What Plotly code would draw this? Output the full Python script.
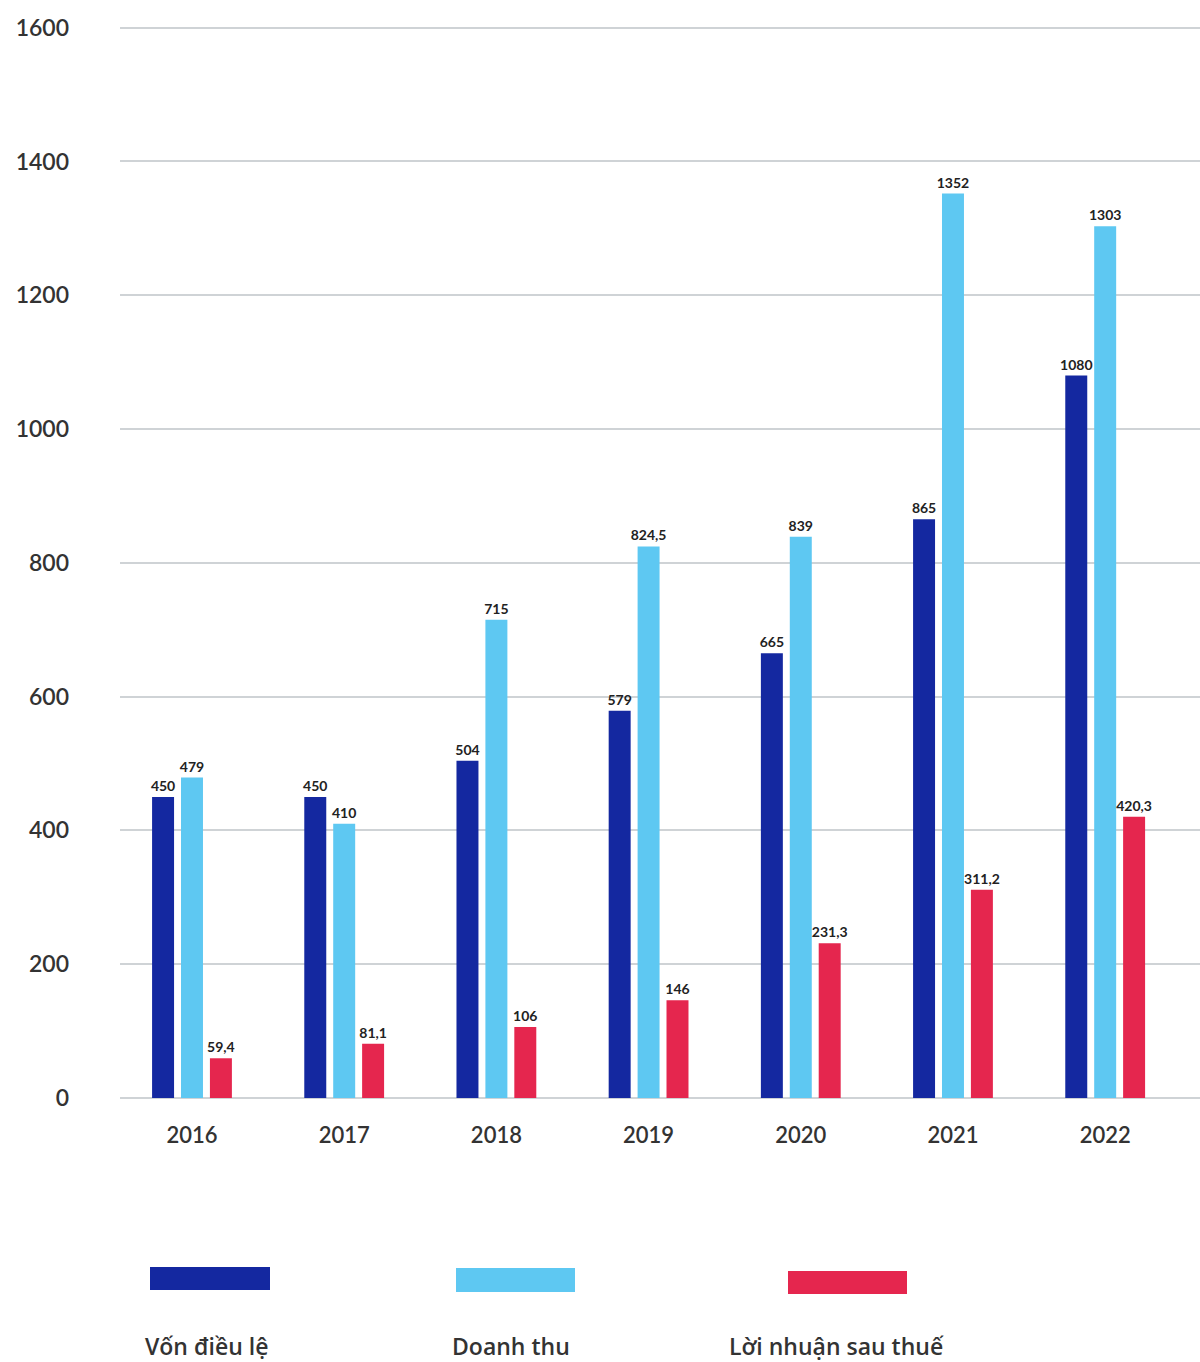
import plotly.graph_objects as go

years = ["2016", "2017", "2018", "2019", "2020", "2021", "2022"]
von_dieu_le = [450, 450, 504, 579, 665, 865, 1080]
doanh_thu = [479, 410, 715, 824.5, 839, 1352, 1303]
loi_nhuan = [59.4, 81.1, 106, 146, 231.3, 311.2, 420.3]
series_names = ["Vốn điều lệ", "Doanh thu", "Lời nhuận sau thuế"]
colors = ["#1428a0", "#5ec8f2", "#e5264e"]
y_ticks = [0, 200, 400, 600, 800, 1000, 1200, 1400, 1600]


def fmt(v):
    s = ("%g" % v)
    return s.replace(".", ",")


W, H = 1200, 1362
L, R, T, B = 120, 0, 21, 264

fig = go.Figure()
for name, vals, col in zip(series_names, [von_dieu_le, doanh_thu, loi_nhuan], colors):
    fig.add_trace(go.Bar(
        x=years, y=vals, name=name, marker=dict(color=col, line=dict(width=0)),
        text=[fmt(v) for v in vals], textposition="outside", cliponaxis=False,
        textfont=dict(family="Lato", size=14, color="#222222", weight="bold"),
        showlegend=False,
    ))

fig.update_layout(
    width=W, height=H,
    margin=dict(l=L, r=R, t=T, b=B),
    plot_bgcolor="white", paper_bgcolor="white",
    barmode="group", bargap=0.43, bargroupgap=0.24,
    uniformtext=dict(minsize=14, mode="show"),
    font=dict(family="Lato", color="#333333"),
)
fig.update_xaxes(
    type="category", range=[-0.473, 6.623], showgrid=False, showline=False, ticks="",
    tickfont=dict(family="Lato", size=22, color="#333333", weight=600),
    ticklabelstandoff=22,
)
fig.update_yaxes(
    range=[0, 1610], tickvals=y_ticks, ticktext=[str(t) for t in y_ticks],
    showgrid=True, gridcolor="#cfd3d6", gridwidth=1.5,
    zeroline=True, zerolinecolor="#cfd3d6", zerolinewidth=1.5,
    showline=False, ticks="",
    tickfont=dict(family="Lato", size=23, color="#333333", weight=600),
    ticklabelstandoff=50,
)

pw = W - L - R
ph = H - T - B


def px_x(x):
    return (x - L) / pw


def px_y(y):
    return (H - B - y) / ph


legend_rects = [(150, 270, 1267, 1290), (456, 575, 1268, 1292), (788, 907, 1271, 1294)]
legend_label_x = [143, 450, 727]
for (x0, x1, y0, y1), col, name, lx in zip(legend_rects, colors, series_names, legend_label_x):
    fig.add_shape(type="rect", xref="paper", yref="paper",
                  x0=px_x(x0), x1=px_x(x1), y0=px_y(y1), y1=px_y(y0),
                  fillcolor=col, line=dict(width=0))
    fig.add_annotation(xref="paper", yref="paper", x=px_x(lx), y=px_y(1346),
                       text=name, showarrow=False, xanchor="left", yanchor="middle",
                       font=dict(family="Open Sans", size=23, color="#333333", weight=600))

fig.write_html("out.html")
